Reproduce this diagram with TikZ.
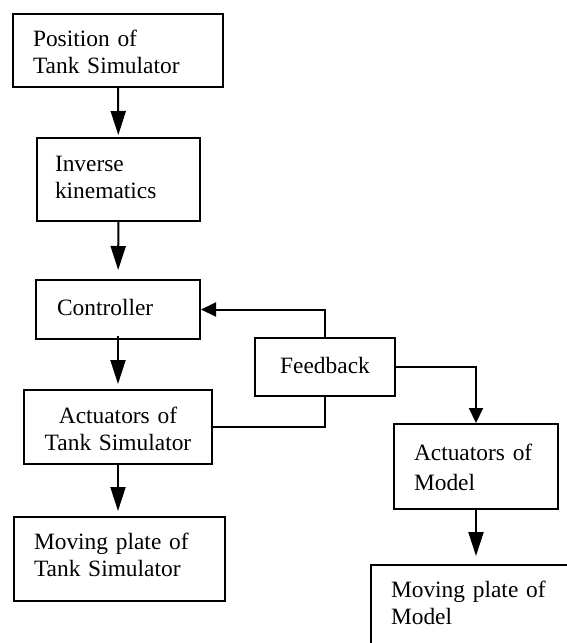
\documentclass[tikz,border=0pt]{standalone}
\usepackage{fontspec}
\setmainfont{Liberation Serif}
\usetikzlibrary{arrows.meta}
\begin{document}
\begin{tikzpicture}[x=0.5pt,y=-0.5pt,
	box/.style={draw,line width=1pt,inner ysep=0pt,anchor=north west,align=left,font=\fontsize{11.7}{13.5}\selectfont},
	arr/.style={-{Triangle[length=12pt,width=7.5pt]},line width=1pt},
	fbarr/.style={-{Triangle[length=7.5pt,width=7pt]},line width=1pt}]%SƠ ĐỒ ĐIỀU KHIỂN
			\fill[white] (0,0) rectangle (567,643);
			\useasboundingbox (0,0) rectangle (567,643);
			%left column
			\node[box,inner xsep=10pt,text width=85pt,text height=16pt,text depth=20.5pt] (pos) at (12,13) {Position of\\Tank Simulator};
			\node[box,inner xsep=9pt,text width=63.5pt,text height=16.5pt,text depth=25pt] (ik) at (36,137) {Inverse\\kinematics};
			\node[box,inner xsep=10.5pt,text width=61pt,text height=17.5pt,text depth=12pt] (ctrl) at (35,279) {Controller};
			\node[box,align=center,inner xsep=5pt,text width=84pt,text height=16.5pt,text depth=20.5pt] (actTS) at (23,389) {Actuators of\\Tank Simulator};
			\node[box,inner xsep=10pt,text width=85.5pt,text height=16pt,text depth=26pt] (mpTS) at (13,516) {Moving plate of\\Tank Simulator};
			%right side
			\node[box,align=center,inner xsep=5pt,text width=60pt,text height=17.5pt,text depth=11.5pt] (fb) at (254,337) {Feedback};
			\node[box,inner xsep=10pt,text width=62pt,text height=18pt,text depth=24.5pt] (actM) at (393,423) {Actuators of\\[1.75pt]Model};
			\node[box,inner xsep=10pt,text width=100pt,text height=16pt,text depth=60pt] (mpM) at (370,564) {Moving plate of\\Model};
			%arrows
			\draw[arr,shorten >=1pt] (pos) -- (ik);
			\draw[arr,shorten >=4.5pt] (ik) -- (ctrl);
			\draw[arr,shorten <=-2pt,shorten >=2.5pt] (ctrl) -- (actTS);
			\draw[arr,shorten >=2.5pt] (actTS.south) -- (actTS.south |- mpTS.north);
			\draw[arr,shorten >=4pt] (actM.south) -- (actM.south |- mpM.north);
			\draw[fbarr] (fb.north) |- (ctrl.east);
			\draw[line width=1pt] (fb.south) |- (actTS.east);
			\draw[fbarr] (fb.east) -| (actM.north);
			
			\end{tikzpicture}
\end{document}
